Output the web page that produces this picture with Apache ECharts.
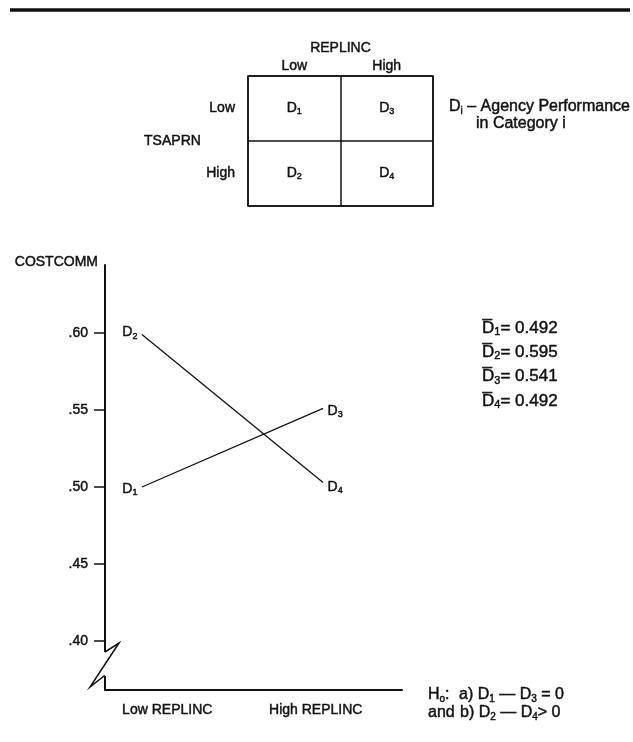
<!DOCTYPE html>
<html><head><meta charset="utf-8">
<script src="https://cdn.jsdelivr.net/npm/echarts@6/dist/echarts.min.js"></script>
<style>html,body{margin:0;padding:0;background:#fff}#c{width:633px;height:742px}</style>
</head><body><div id="c"></div>
<script>
// ---- data ----
const replincLevels = ['Low', 'High'];
const tsaprnLevels = ['Low', 'High'];
const cellSubs = ['1', '3', '2', '4'];            // D1 (Low,Low), D3 (High,Low), D2 (Low,High), D4 (High,High)
const cellX = [0, 1, 0, 1];
const cellY = [0, 0, 1, 1];
const xCategories = ['Low REPLINC', 'High REPLINC'];
const yTicks = [0.40, 0.45, 0.50, 0.55, 0.60];
const lineD1D3 = [0.500, 0.551];                   // as drawn: D1 -> D3
const lineD2D4 = [0.599, 0.503];                   // as drawn: D2 -> D4
const meanSubs = ['1', '2', '3', '4'];
const meanValues = ['0.492', '0.595', '0.541', '0.492'];

// ---- styling ----
const FONT = '"Liberation Sans", Arial, Helvetica, sans-serif';
const INK = '#111';
const TB = { textBorderColor: INK, textBorderWidth: 0.45 };
// rich styles for echarts labels (echarts naming)
const richD = {
  d: Object.assign({ fontSize: 14, fontFamily: FONT, color: INK }, TB),
  s: Object.assign({ fontSize: 9, fontFamily: FONT, color: INK, padding: [7, 0, 0, 0] }, TB)
};
// rich styles for graphic texts (zrender naming)
const zr = (size, extra) => Object.assign({ fontSize: size, fontFamily: FONT, fill: INK, stroke: INK, lineWidth: 0.45 }, extra || {});
const mkZRich = (big, small, drop) => ({
  d: zr(big), t: zr(big), s: zr(small, { padding: [drop, 0, 0, 0] })
});
const richA = mkZRich(16, 10, 8);
const richM = mkZRich(17, 11, 8);
const sub = n => `{d|D}{s|${n}}`;

function pointData(vals, subs, offs) {
  return vals.map((v, i) => ({
    value: [i, v],
    label: {
      show: true, position: i === 0 ? 'left' : 'right', distance: 4,
      offset: offs[i], formatter: sub(subs[i]), rich: richD
    }
  }));
}

const chart = echarts.init(document.getElementById('c'), null, { renderer: 'canvas' });

const lineSeries = (data) => ({
  type: 'line', xAxisIndex: 0, yAxisIndex: 0, data: data,
  symbol: 'circle', symbolSize: 1, itemStyle: { color: 'rgba(0,0,0,0)', opacity: 1 },
  lineStyle: { color: INK, width: 1.3 }, emphasis: { disabled: true }, silent: true, z: 3
});
const axLabel = (extra) => Object.assign({ fontSize: 14, color: INK, fontFamily: FONT }, TB, extra);

chart.setOption({
  animation: false,
  backgroundColor: '#fff',
  textStyle: { fontFamily: FONT, color: INK },
  grid: [
    { left: 105, right: 231, top: 265, bottom: 52 },
    { left: 248, top: 76, width: 185, height: 130, show: true, borderColor: INK, borderWidth: 1.5, backgroundColor: 'transparent' }
  ],
  xAxis: [
    { gridIndex: 0, type: 'value', min: -0.204, max: 1.436, show: false },
    { gridIndex: 0, type: 'category', data: xCategories, position: 'bottom', boundaryGap: true,
      axisLine: { show: true, onZero: false, lineStyle: { color: INK, width: 2 } }, axisTick: { show: false },
      axisLabel: axLabel({ margin: 13, padding: [0, 24, 0, 0] }),
      splitLine: { show: false } },
    { gridIndex: 1, type: 'category', data: replincLevels, position: 'top', boundaryGap: true,
      axisLine: { show: false }, axisTick: { show: false },
      axisLabel: axLabel({ margin: 3 }),
      splitLine: { show: true, lineStyle: { color: INK, width: 1.5 } },
      name: 'REPLINC', nameLocation: 'middle', nameGap: 21,
      nameTextStyle: axLabel({}) }
  ],
  yAxis: [
    { gridIndex: 0, type: 'value', min: 0.36818, max: 0.64416,
      axisLine: { show: true, onZero: false, lineStyle: { color: INK, width: 2 } },
      axisTick: { show: true, length: 11, customValues: yTicks, lineStyle: { color: INK, width: 1.5 } },
      axisLabel: axLabel({ customValues: yTicks, formatter: v => '.' + String(Math.round(v * 100)), margin: 17 }),
      splitLine: { show: false },
      name: 'COSTCOMM', nameLocation: 'end', nameGap: 3,
      nameTextStyle: axLabel({ align: 'right', verticalAlign: 'middle', padding: [0, 7, 0, 0] }) },
    { gridIndex: 1, type: 'category', data: tsaprnLevels, inverse: true, boundaryGap: true,
      axisLine: { show: false }, axisTick: { show: false },
      axisLabel: axLabel({ margin: 13 }),
      splitLine: { show: true, lineStyle: { color: INK, width: 1.5 } },
      name: 'TSAPRN', nameLocation: 'middle', nameGap: 40, nameRotate: 0,
      nameTextStyle: axLabel({}) }
  ],
  series: [
    lineSeries(pointData(lineD1D3, ['1', '3'], [[0, 2], [0, 3]])),
    lineSeries(pointData(lineD2D4, ['2', '4'], [[0, -2], [0, 5]])),
    { type: 'scatter', xAxisIndex: 2, yAxisIndex: 1, symbolSize: 1, silent: true,
      itemStyle: { color: 'rgba(0,0,0,0)', opacity: 1 },
      data: cellSubs.map((s, i) => ({ value: [cellX[i], cellY[i]],
        label: { show: true, position: 'inside', formatter: sub(s), rich: richD } })) }
  ]
});

// ---- decorations (axis break, rule, annotations) ----
const ax = chart.convertToPixel({ xAxisIndex: 0 }, -0.204);
const y40 = chart.convertToPixel({ yAxisIndex: 0 }, 0.40);
const txt = (x, y, text, size, rich) => ({
  type: 'text', x: x, y: y, z: 50,
  style: { text: text, fontSize: size, fontFamily: FONT, fill: INK, verticalAlign: 'middle', rich: rich }
});
const graphics = [
  { type: 'line', z: 50, shape: { x1: 10, y1: 10, x2: 630, y2: 10 }, style: { stroke: INK, lineWidth: 3.5 } },
  { type: 'rect', z: 60, shape: { x: ax - 3, y: y40 + 11, width: 6, height: 24 }, style: { fill: '#fff' } },
  { type: 'polyline', z: 61, shape: { points: [[ax, y40 + 11], [ax + 14, y40 + 2], [ax - 15, y40 + 46], [ax - 1, y40 + 35], [ax, y40 + 35]] },
    style: { stroke: INK, lineWidth: 1.5, fill: null } },
  txt(449, 107, '{d|D}{s|i}{t| – Agency Performance}', 16, richA),
  txt(476, 124, '{t|in Category i}', 16, richA),
  txt(428, 695, '{t|H}{s|o}{t|:}', 16, richA),
  txt(459, 695, '{t|a) }' + sub('1') + '{t| — }' + sub('3') + '{t| = 0}', 16, richA),
  txt(428, 713, '{t|and}', 16, richA),
  txt(460, 713, '{t|b) }' + sub('2') + '{t| — }' + sub('4') + '{t|> 0}', 16, richA)
];
meanValues.forEach((v, i) => {
  graphics.push(txt(482, 328 + i * 24.3, '{d|D\u0305}{s|' + meanSubs[i] + '}{t|= ' + v + '}', 17, richM));
});
chart.setOption({ graphic: graphics });
</script>
</body></html>
